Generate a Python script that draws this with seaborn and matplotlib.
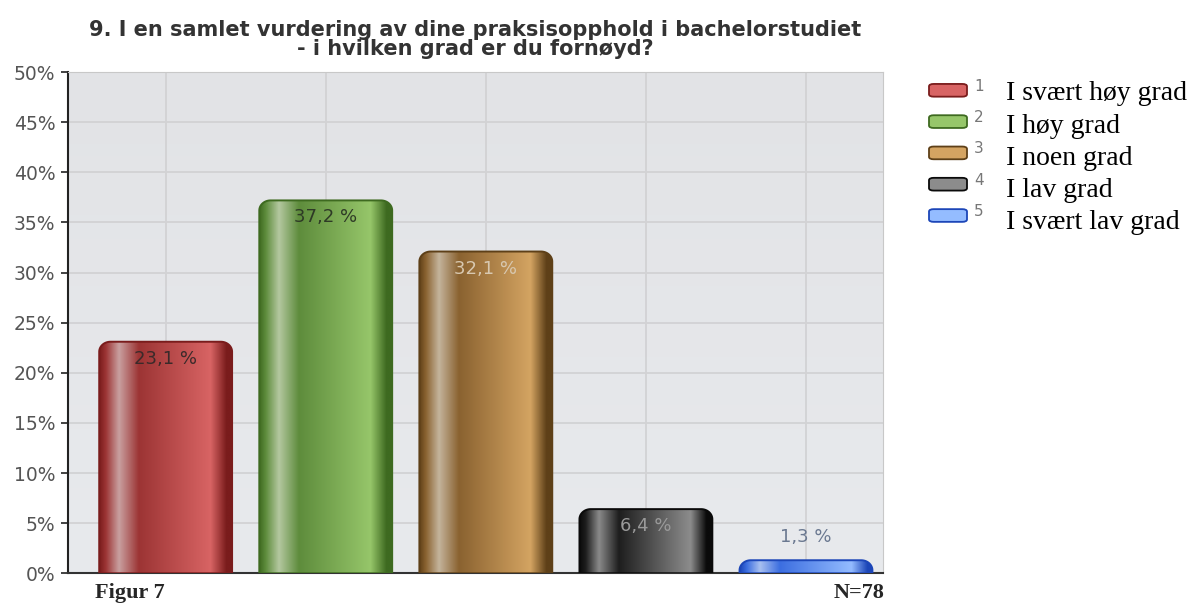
import numpy as np
import pandas as pd
import matplotlib
matplotlib.use("Agg")
import matplotlib.pyplot as plt
import seaborn as sns
from matplotlib.colors import to_rgb
from matplotlib.patches import FancyBboxPatch, PathPatch
from matplotlib.path import Path

sns.set_style("white")

# data
numbers = ["1", "2", "3", "4", "5"]
answers = ["I svært høy grad", "I høy grad", "I noen grad", "I lav grad", "I svært lav grad"]
shares = [23.1, 37.2, 32.1, 6.4, 1.3]
value_labels = ["23,1 %", "37,2 %", "32,1 %", "6,4 %", "1,3 %"]

title = "9. I en samlet vurdering av dine praksisopphold i bachelorstudiet\n- i hvilken grad er du fornøyd?"

# dark edge / highlight / mid / light
bar_colours = [
    ("#7a1c1c", "#c9a0a0", "#9c3434", "#d86464"),
    ("#3e6a20", "#b4c8a0", "#5e8c3c", "#96c66a"),
    ("#5e4018", "#c4b49c", "#8a6230", "#d4a462"),
    ("#0a0a0a", "#8a8a8a", "#1e1e1e", "#8c8c8c"),
    ("#1c46b8", "#a8c0f0", "#3c6ee0", "#94bcff"),
]
label_colours = ["#3a2a2a", "#2e3a26", "#d8c8b0", "#9a9a9a", "#6a7890"]

df = pd.DataFrame({"nr": numbers, "share": shares})

fig = plt.figure(figsize=(11.93, 6.06), dpi=100)
ax = fig.add_axes([0.057, 0.054, 0.683, 0.827])

XMIN, XMAX = -0.61, 4.48

# background gradient of plot area
bg = np.linspace(0, 1, 200)[:, None]
bgcol = np.array(to_rgb("#e2e3e6")) * (1 - bg[..., None]) + np.array(to_rgb("#e8eaed")) * bg[..., None]
ax.imshow(bgcol, extent=[XMIN, XMAX, 0, 50], aspect="auto", zorder=0)

sns.barplot(data=df, x="nr", y="share", ax=ax, width=0.83, zorder=3)

ax.set_xlim(XMIN, XMAX)
ax.set_ylim(0, 50)
ax.set_yticks(np.arange(0, 51, 5))
ax.set_yticklabels([f"{t}%" for t in range(0, 51, 5)], color="#555555", fontsize=13.5,
                   family="DejaVu Sans")
ax.set_xticks(range(5))
ax.set_xticklabels([])
ax.tick_params(axis="y", length=5, width=1.2, color="#222222", pad=4, left=True)
ax.tick_params(axis="x", length=0)
ax.grid(True, color="#d2d2d4", lw=1.3, zorder=1)
ax.set_axisbelow(True)
ax.set_xlabel("")
ax.set_ylabel("")
for s in ["top", "right"]:
    ax.spines[s].set_color("#c8c8c8")
    ax.spines[s].set_linewidth(0.8)
ax.spines["left"].set_color("#222222")
ax.spines["left"].set_linewidth(1.5)
ax.spines["bottom"].set_color("#333333")
ax.spines["bottom"].set_linewidth(1.5)


def top_rounded(x0, w, h, rx, ry):
    # rectangle from y=0 to h with rounded top corners (quarter ellipses)
    t = np.linspace(0, np.pi / 2, 20)
    left = [(x0 + rx - rx * np.cos(a), h - ry + ry * np.sin(a)) for a in t]
    right = [(x0 + w - rx + rx * np.sin(a), h - ry + ry * np.cos(a)) for a in t]
    verts = [(x0, 0)] + left + right + [(x0 + w, 0), (x0, 0)]
    return Path(verts)


# gradient fill for each bar, clipped to a rounded shape
xs = np.linspace(0, 1, 300)
for i, bar in enumerate(ax.patches):
    bar.set_visible(False)
    edge, hi, mid, light = [np.array(to_rgb(c)) for c in bar_colours[i]]
    stops = [0.0, 0.05, 0.15, 0.30, 0.84, 0.96, 1.0]
    cols = [edge, mid, hi, mid, light, edge, edge]
    prof = np.array([np.interp(xs, stops, [c[k] for c in cols]) for k in range(3)]).T
    img = np.repeat(prof[None, :, :], 2, axis=0)
    x0, w, h = bar.get_x(), bar.get_width(), bar.get_height()
    rx, ry = 0.07, min(1.0, h * 0.8)
    path = top_rounded(x0, w, h, rx, ry)
    clip = PathPatch(path, transform=ax.transData, facecolor="none", edgecolor="none")
    ax.add_patch(clip)
    im = ax.imshow(img, extent=[x0, x0 + w, 0, h], aspect="auto", zorder=3,
                   interpolation="bilinear")
    im.set_clip_path(clip)
    outline = PathPatch(path, transform=ax.transData, facecolor="none",
                        edgecolor=edge, lw=1.4, zorder=4)
    ax.add_patch(outline)
    cx = x0 + w / 2
    if h > 3:
        ax.text(cx, h - 0.8, value_labels[i], ha="center", va="top", fontsize=13,
                color=label_colours[i], family="DejaVu Sans", zorder=5)
    else:
        ax.text(cx, h + 1.4, value_labels[i], ha="center", va="bottom", fontsize=13,
                color=label_colours[i], family="DejaVu Sans", zorder=5)

ax.set_ylim(0, 50)
ax.set_xlim(XMIN, XMAX)
ax.set_title(title, fontsize=15, fontweight="bold", color="#333333",
             family="DejaVu Sans", pad=12, linespacing=0.95)

# legend: small boxes with numbers, serif answer texts
for i in range(5):
    edge, hi, mid, light = [to_rgb(c) for c in bar_colours[i]]
    yb = 1 - (90 + 31.3 * i) / 606
    yt = 1 - (94 + 32.2 * i) / 606
    fig.patches.append(FancyBboxPatch((929 / 1193, yb - 0.011), 38 / 1193, 0.021,
                                      boxstyle="round,pad=0,rounding_size=0.004",
                                      transform=fig.transFigure, facecolor=light,
                                      edgecolor=edge, lw=1.3))
    fig.text(974 / 1193, yb + 0.006, numbers[i], fontsize=11, color="#777777",
             family="DejaVu Sans", va="center", ha="left")
    fig.text(1006 / 1193, yt, answers[i], fontsize=20, color="black",
             family="Liberation Serif", va="center", ha="left")

fig.text(95 / 1193, 1 - 593 / 606, "Figur 7", fontsize=16, fontweight="bold",
         family="Liberation Serif", va="center", ha="left")
fig.text(884 / 1193, 1 - 593 / 606, "N=78", fontsize=16, fontweight="bold",
         family="Liberation Serif", va="center", ha="right")

fig.savefig("out.png", dpi=100)
